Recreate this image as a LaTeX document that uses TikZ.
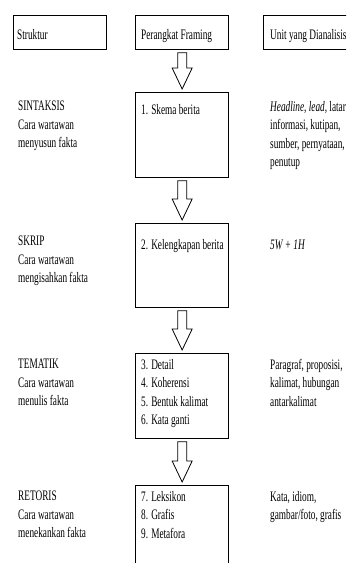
\documentclass[tikz,border=0pt]{standalone}
\usepackage{fontspec}
\setmainfont[FakeStretch=0.64]{Liberation Serif}
\usetikzlibrary{calc}

\tikzset{
  box/.style={draw, line width=1.3pt, anchor=north west, minimum width=93pt, inner sep=0pt},
  txt/.style={anchor=north west, yshift=12.95pt, inner sep=0pt, align=left,
    font=\fontsize{14.5}{18.5}\selectfont, execute at begin node=\strut},
}
% hollow block arrow from the bottom of one box to the top of the next
\newcommand{\hollowarrow}[2]{%
  \draw[line width=0.8pt] let \p1=($(#1.south)+(0,-2.5pt)$), \p2=($(#2.north)+(0,3pt)$) in
    (\x1-4.5pt,\y1) -- (\x1+4.5pt,\y1) -- (\x1+4.5pt,\y2+21pt) -- (\x1+10pt,\y2+21pt)
    -- (\x1,\y2) -- (\x1-10pt,\y2+21pt) -- (\x1-4.5pt,\y2+21pt) -- cycle;}

\begin{document}
\begin{tikzpicture}[x=1pt,y=-1pt]
\useasboundingbox (0,0) rectangle (346,563);
\clip (0,0) rectangle (346,563);

% header row
\node[box, minimum height=34pt] (hstruk) at (13,15) {};
\node[box, minimum height=34pt] (hframe) at (135,15) {};
\node[box, minimum height=34pt, minimum width=100pt] (hunit) at (263,15) {};
\node[txt] (thstruk) at (17,39) {Struktur};
\node[txt] (thframe) at (141,39) {Perangkat Framing};
\node[txt] (thunit) at (270,39) {Unit yang Dianalisis};

% framing boxes
\node[box, minimum height=85pt] (skema) at (135,92) {};
\node[box, minimum height=84pt] (lengkap) at (135,223) {};
\node[box, minimum height=85pt] (detail) at (135,353) {};
\node[box, minimum height=100pt] (leksikon) at (135,485) {};

\hollowarrow{hframe}{skema}
\hollowarrow{skema}{lengkap}
\hollowarrow{lengkap}{detail}
\hollowarrow{detail}{leksikon}

% sintaksis
\node[txt] (lsin) at (18,114) {SINTAKSIS\\Cara wartawan\\menyusun fakta};
\node[txt] (msin) at (141,114) {1. Skema berita};
\node[txt] (rsin) at (270,114) {\textit{Headline}, \textit{lead}, latar\\informasi, kutipan,\\sumber, pernyataan,\\penutup};

% skrip
\node[txt] (lskr) at (18,249) {SKRIP\\Cara wartawan\\mengisahkan fakta};
\node[txt] (mskr) at (141,249) {2. Kelengkapan berita};
\node[txt] (rskr) at (270,249) {\textit{5W + 1H}};

% tematik
\node[txt] (ltem) at (18,372) {TEMATIK\\Cara wartawan\\menulis fakta};
\node[txt] (mtem) at (141,372) {3. Detail\\4. Koherensi\\5. Bentuk kalimat\\6. Kata ganti};
\node[txt] (rtem) at (270,372) {Paragraf, proposisi,\\kalimat, hubungan\\antarkalimat};

% retoris
\node[txt] (lret) at (18,504) {RETORIS\\Cara wartawan\\menekankan fakta};
\node[txt] (mret) at (141,504) {7. Leksikon\\8. Grafis\\9. Metafora};
\node[txt] (rret) at (270,504) {Kata, idiom,\\gambar/foto, grafis};
\end{tikzpicture}
\end{document}
